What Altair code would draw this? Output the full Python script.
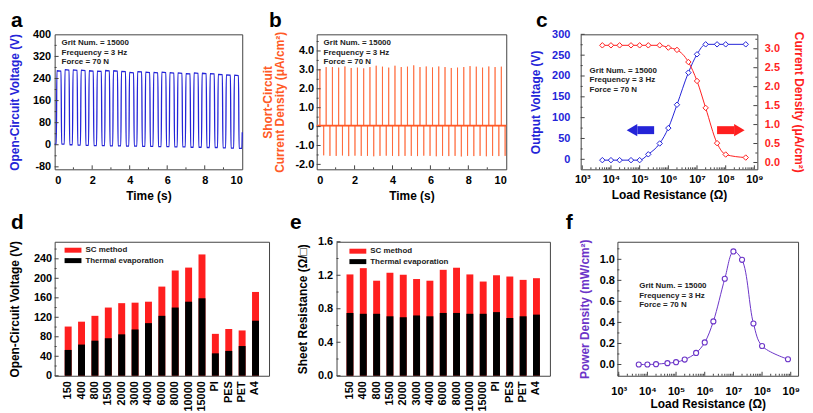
import altair as alt
import pandas as pd

FONT = "Liberation Sans"
FRAME = "#444444"
BLUE = "#2424d8"
RED = "#ff1f1f"
ORANGE = "#ff5a26"
PURPLE = "#6b34c8"

# ---------------- data ----------------
# panel a: open-circuit voltage square wave (pulse edges and levels)
a_rise = [0.10, 0.53, 0.96, 1.39, 1.82, 2.25, 2.68, 3.11, 3.54, 3.97, 4.40, 4.83,
          5.26, 5.69, 6.12, 6.55, 6.98, 7.41, 7.84, 8.27, 8.70, 9.13, 9.56]
a_fall = [0.36, 0.79, 1.22, 1.65, 2.08, 2.51, 2.94, 3.37, 3.80, 4.23, 4.66, 5.09,
          5.52, 5.95, 6.38, 6.81, 7.24, 7.67, 8.10, 8.53, 8.96, 9.39, 9.82]
a_high = [268, 272, 271, 270, 268, 267, 269, 268, 266, 262, 265, 263,
          262, 263, 261, 260, 258, 260, 259, 258, 255, 253, 252]
a_low = [2, 0, -1, -2, -3, -3, -4, -4, -5, -5, -6, -6,
         -7, -7, -8, -8, -9, -9, -10, -10, -11, -12, -13]
a_tail_t = [9.98, 10.0]
a_tail_v = [-13, 45]

# panel b: short-circuit current density spikes
b_pos_t = [0.17, 0.50, 0.83, 1.16, 1.49, 1.82, 2.15, 2.48, 2.81, 3.14, 3.47, 3.80, 4.13, 4.46, 4.79,
           5.12, 5.45, 5.78, 6.11, 6.44, 6.77, 7.10, 7.43, 7.76, 8.09, 8.42, 8.75, 9.08, 9.41, 9.74]
b_pos_v = [3.05, 3.15, 3.15, 3.12, 3.18, 3.10, 3.12, 3.08, 3.15, 3.22, 3.17, 3.12, 3.22, 3.15, 3.17,
           3.24, 3.15, 3.18, 3.13, 3.18, 3.15, 3.10, 3.12, 3.15, 3.20, 3.17, 3.12, 3.18, 3.15, 3.17]
b_neg_t = [0.37, 0.70, 1.03, 1.36, 1.69, 2.02, 2.35, 2.68, 3.01, 3.34, 3.67, 4.00, 4.33, 4.66, 4.99,
           5.32, 5.65, 5.98, 6.31, 6.64, 6.97, 7.30, 7.63, 7.96, 8.29, 8.62, 8.95, 9.28, 9.61, 9.94]
b_neg_v = [-1.52, -1.55, -1.55, -1.53, -1.56, -1.54, -1.55, -1.55, -1.57, -1.55, -1.54, -1.55, -1.56,
           -1.55, -1.55, -1.56, -1.54, -1.55, -1.57, -1.55, -1.56, -1.55, -1.58, -1.55, -1.56, -1.55,
           -1.57, -1.55, -1.56, -1.55]
b_base = 0.05

# panel c: output voltage / current density vs load resistance
c_res = [5e3, 1e4, 2e4, 5e4, 1e5, 2e5, 5e5, 1e6, 2e6, 5e6, 1e7, 2e7, 5e7, 1e8, 5e8]
c_volt = [-2, -2, -2, -2, -2, 12, 38, 75, 131, 208, 252, 276, 276, 276, 276]
c_curr = [3.09, 3.09, 3.09, 3.09, 3.09, 3.09, 3.09, 3.03, 2.97, 2.65, 2.15, 1.44, 0.51, 0.21, 0.13]

# panels d, e: bar categories
cats = ["150", "400", "800", "1500", "2000", "3000", "4000", "6000", "8000",
        "10000", "15000", "PI", "PES", "PET", "A4"]
d_sc = [101, 111, 123, 140, 149, 150, 152, 183, 216, 222, 249, 86, 96, 93, 172]
d_th = [53, 64, 72, 77, 85, 95, 108, 123, 140, 152, 159, 46, 51, 61, 113]
e_sc = [1.21, 1.285, 1.135, 1.23, 1.205, 1.155, 1.135, 1.265, 1.29, 1.21, 1.125, 1.20, 1.185, 1.145, 1.165]
e_th = [0.75, 0.74, 0.74, 0.71, 0.70, 0.72, 0.71, 0.75, 0.75, 0.74, 0.74, 0.76, 0.69, 0.71, 0.73]

# panel f: power density
f_res = [5e3, 1e4, 2e4, 5e4, 1e5, 2e5, 5e5, 1e6, 2e6, 5e6, 1e7, 2e7, 5e7, 1e8, 8e8]
f_pow = [0.0, 0.0, 0.003, 0.013, 0.022, 0.047, 0.11, 0.21, 0.41, 0.815, 1.075, 0.995, 0.39, 0.176, 0.05]

note_lines = ["Grit Num. = 15000", "Frequency = 3 Hz", "Force = 70 N"]
legend_labels = ["SC method", "Thermal evaporation"]

# ---------------- helpers ----------------
def ax(**kw):
    base = dict(domain=False, ticks=False, grid=False,
                labelFont=FONT, labelFontSize=11, labelFontWeight="bold", labelColor="black",
                titleFont=FONT, titleFontSize=12, titleFontWeight="bold", titleColor="black")
    base.update(kw)
    return alt.Axis(**base)


ONE = pd.DataFrame({"k": [0]})


def yticks(vals, enc, size, W=None):
    df = pd.DataFrame({"tv": vals})
    if W is None:
        xx, xx2 = alt.value(0), alt.value(size)
    else:
        xx, xx2 = alt.value(W), alt.value(W - size)
    return alt.Chart(df).mark_rule(color=FRAME, strokeWidth=1).encode(
        y=alt.Y("tv:Q", **enc), x=xx, x2=xx2)


def xticks(vals, enc, size, H):
    df = pd.DataFrame({"tv": vals})
    return alt.Chart(df).mark_rule(color=FRAME, strokeWidth=1).encode(
        x=alt.X("tv:Q", **enc), y=alt.value(H), y2=alt.value(H - size))


def letter(ch, x, y):
    return alt.Chart(ONE).mark_text(text=ch, font=FONT, fontSize=21, fontWeight="bold",
                                    align="left", baseline="alphabetic", color="black").encode(
        x=alt.value(x), y=alt.value(y))


def note(x, y):
    return alt.Chart(ONE).mark_text(text=note_lines, font=FONT, fontSize=8, fontWeight="bold",
                                    align="left", baseline="top", lineHeight=9.5,
                                    color="#222222").encode(x=alt.value(x), y=alt.value(y))


def legend(x0, y0):
    layers = []
    for i, (lab, col) in enumerate(zip(legend_labels, [RED, "black"])):
        yy = y0 + i * 10.5
        layers.append(alt.Chart(ONE).mark_rect(color=col).encode(
            x=alt.value(x0), x2=alt.value(x0 + 17), y=alt.value(yy), y2=alt.value(yy + 5)))
        layers.append(alt.Chart(ONE).mark_text(text=lab, font=FONT, fontSize=8, fontWeight="bold",
                                               align="left", baseline="middle", color="#222222").encode(
            x=alt.value(x0 + 21), y=alt.value(yy + 2.5)))
    return layers


sup = "datum.value < 5e3 ? '10³' : datum.value < 5e4 ? '10⁴' : datum.value < 5e5 ? '10⁵' : " \
      "datum.value < 5e6 ? '10⁶' : datum.value < 5e7 ? '10⁷' : datum.value < 5e8 ? '10⁸' : '10⁹'"
decades = [1e3, 1e4, 1e5, 1e6, 1e7, 1e8, 1e9]
minor_log = [m * d for d in decades[:-1] for m in range(2, 10)]

H1 = 136
H2 = 135

# ---------------- panel a ----------------
a_t, a_v = [0.0], [a_low[0]]
prev = a_low[0]
for r, f, hi, lo in zip(a_rise, a_fall, a_high, a_low):
    a_t += [r - 0.012, r + 0.02, f - 0.02, f + 0.012]
    a_v += [prev, hi, hi * 0.995, lo]
    prev = lo
a_t += a_tail_t
a_v += a_tail_v
df_a = pd.DataFrame({"t": a_t, "v": a_v})

WA = 189
time_x = dict(scale=alt.Scale(domain=[0, 10], nice=False, zero=False),
              axis=ax(values=[0, 2, 4, 6, 8, 10], labelPadding=5, titlePadding=5),
              title="Time (s)")
a_y = dict(scale=alt.Scale(domain=[-89, 400], nice=False, zero=False),
           axis=ax(values=[-80, 0, 80, 160, 240, 320, 400], labelPadding=4, titlePadding=11,
                   titleColor=BLUE, labelExpr="replace(datum.label, '−', '-')"),
           title="Open-Circuit Voltage (V)")
pa = alt.layer(
    alt.Chart(df_a).mark_line(color=BLUE, strokeWidth=1.3, interpolate="monotone").encode(
        x=alt.X("t:Q", **time_x), y=alt.Y("v:Q", **a_y)),
    yticks([-80, 0, 80, 160, 240, 320], a_y, 4),
    yticks([-40, 40, 120, 200, 280, 360], a_y, 2),
    xticks([2, 4, 6, 8], time_x, 4, H1),
    xticks([1, 3, 5, 7, 9], time_x, 2, H1),
    note(7, 5),
    letter("a", -44, -7),
).properties(width=WA, height=H1)

# ---------------- panel b ----------------
ev = [(t, v) for t, v in zip(b_pos_t, b_pos_v)] + [(t, v) for t, v in zip(b_neg_t, b_neg_v)]
ev.sort()
b_t, b_v = [0.0], [b_base]
for t, v in ev:
    b_t += [t - 0.004, t, t + 0.004]
    b_v += [b_base, v, b_base]
b_t.append(10.0)
b_v.append(b_base)
df_b = pd.DataFrame({"t": b_t, "v": b_v})
df_b0 = pd.DataFrame({"t": [0.0], "t2": [10.0], "v": [b_base]})

WB = 191
b_y = dict(scale=alt.Scale(domain=[-2.26, 4.88], nice=False, zero=False),
           axis=ax(values=[-2, -1, 0, 1, 2, 3, 4], labelPadding=3, titlePadding=8,
                   titleColor=ORANGE, titleLineHeight=13,
                   labelExpr="datum.value == 0 ? '0' : replace(format(datum.value, '.1f'), '−', '-')"),
           title=["Short-Circuit", "Current Density (μA/cm²)"])
pb = alt.layer(
    alt.Chart(df_b).mark_line(color=ORANGE, strokeWidth=1, opacity=0.7).encode(
        x=alt.X("t:Q", **time_x), y=alt.Y("v:Q", **b_y)),
    alt.Chart(df_b0).mark_rule(color=ORANGE, strokeWidth=1.6).encode(
        x=alt.X("t:Q", **time_x), x2="t2:Q", y=alt.Y("v:Q", **b_y)),
    yticks([-2, -1, 0, 1, 2, 3, 4], b_y, 4),
    yticks([-1.5, -0.5, 0.5, 1.5, 2.5, 3.5, 4.5], b_y, 2),
    xticks([2, 4, 6, 8], time_x, 4, H1),
    xticks([1, 3, 5, 7, 9], time_x, 2, H1),
    note(7, 5),
    letter("b", -48, -7),
).properties(width=WB, height=H1)

# ---------------- panel c ----------------
WC = 178
df_c = pd.DataFrame({"r": c_res, "v": c_volt, "i": c_curr})
c_x = dict(scale=alt.Scale(type="log", domain=[880, 1.27e9], nice=False),
           axis=ax(values=decades, labelExpr=sup, labelPadding=4, titlePadding=5),
           title="Load Resistance (Ω)")
c_yl = dict(scale=alt.Scale(domain=[-24, 300], nice=False, zero=False),
            axis=ax(values=[0, 50, 100, 150, 200, 250, 300], labelPadding=11, titlePadding=9,
                    titleColor=BLUE, labelColor=BLUE),
            title="Output Voltage (V)")
c_yr = dict(scale=alt.Scale(domain=[-0.18, 3.38], nice=False, zero=False),
            axis=ax(orient="right", values=[0, 0.5, 1, 1.5, 2, 2.5, 3], format=".1f", labelPadding=7,
                    titlePadding=12, titleColor=RED, labelColor=RED),
            title="Current Density (μA/cm²)")

arrow_body = pd.DataFrame({"x1": [8.3e4, 5.0e7], "x2": [3.2e5, 2.0e8], "y": [70, 70], "c": ["b", "r"]})
arrow_head = pd.DataFrame({"x": [5.4e4, 3.0e8], "y": [70, 70], "c": ["b", "r"]})

left = alt.layer(
    alt.Chart(df_c).mark_line(color=BLUE, strokeWidth=1, interpolate="monotone").encode(
        x=alt.X("r:Q", **c_x), y=alt.Y("v:Q", **c_yl)),
    alt.Chart(df_c).mark_point(shape="diamond", size=30, color=BLUE, filled=False,
                               strokeWidth=1, fill="white", opacity=1).encode(
        x=alt.X("r:Q", **c_x), y=alt.Y("v:Q", **c_yl)),
    alt.Chart(arrow_body).mark_rule(strokeWidth=8).encode(
        x=alt.X("x1:Q", **c_x), x2="x2:Q", y=alt.Y("y:Q", **c_yl),
        color=alt.Color("c:N", scale=alt.Scale(domain=["b", "r"], range=[BLUE, RED]), legend=None)),
    alt.Chart(arrow_head[arrow_head.c == "b"]).mark_point(shape="triangle-left", size=150, filled=True,
                                                          color=BLUE, opacity=1).encode(
        x=alt.X("x:Q", **c_x), y=alt.Y("y:Q", **c_yl)),
    alt.Chart(arrow_head[arrow_head.c == "r"]).mark_point(shape="triangle-right", size=150, filled=True,
                                                          color=RED, opacity=1).encode(
        x=alt.X("x:Q", **c_x), y=alt.Y("y:Q", **c_yl)),
    yticks([0, 50, 100, 150, 200, 250, 300], c_yl, 4),
    yticks([25, 75, 125, 175, 225, 275], c_yl, 2),
    xticks(decades, c_x, 4, H1),
    xticks(minor_log, c_x, 2, H1),
    note(9, 33),
    letter("c", -45, -7),
)
right = alt.layer(
    alt.Chart(df_c).mark_line(color=RED, strokeWidth=1, interpolate="monotone").encode(
        x=alt.X("r:Q", **c_x), y=alt.Y("i:Q", **c_yr)),
    alt.Chart(df_c).mark_point(shape="diamond", size=30, color=RED, filled=False,
                               strokeWidth=1, fill="white", opacity=1).encode(
        x=alt.X("r:Q", **c_x), y=alt.Y("i:Q", **c_yr)),
    yticks([0, 0.5, 1, 1.5, 2, 2.5, 3], c_yr, 4, W=WC),
    yticks([0.25, 0.75, 1.25, 1.75, 2.25, 2.75, 3.25], c_yr, 2, W=WC),
)
pc = alt.layer(left, right).resolve_scale(y="independent").properties(width=WC, height=H1)

# ---------------- panel d ----------------
df_bar = pd.DataFrame({"cat": cats, "dsc": d_sc, "dth": d_th, "esc": e_sc, "eth": e_th})
band_x = dict(sort=cats, scale=alt.Scale(paddingInner=0.48, paddingOuter=0.75),
              axis=ax(labelAngle=-90, labelPadding=5), title=None)
WD = 216
d_y = dict(scale=alt.Scale(domain=[0, 275], nice=False),
           axis=ax(values=[0, 40, 80, 120, 160, 200, 240], labelPadding=3, titlePadding=12),
           title="Open-Circuit Voltage (V)")
pd_ = alt.layer(
    alt.Chart(df_bar).mark_bar(color=RED).encode(x=alt.X("cat:N", **band_x), y=alt.Y("dsc:Q", **d_y)),
    alt.Chart(df_bar).mark_bar(color="black").encode(x=alt.X("cat:N", **band_x), y=alt.Y("dth:Q", **d_y)),
    yticks([0, 40, 80, 120, 160, 200, 240], d_y, 4),
    yticks([20, 60, 100, 140, 180, 220, 260], d_y, 2),
    *legend(10, 6),
    letter("d", -44, -13),
).properties(width=WD, height=H2)

# ---------------- panel e ----------------
WE = 215
e_y = dict(scale=alt.Scale(domain=[0, 1.6], nice=False),
           axis=ax(values=[0, 0.4, 0.8, 1.2, 1.6], format=".1f", labelPadding=4, titlePadding=8),
           title="Sheet Resistance (Ω/□)")
pe = alt.layer(
    alt.Chart(df_bar).mark_bar(color=RED).encode(x=alt.X("cat:N", **band_x), y=alt.Y("esc:Q", **e_y)),
    alt.Chart(df_bar).mark_bar(color="black").encode(x=alt.X("cat:N", **band_x), y=alt.Y("eth:Q", **e_y)),
    yticks([0, 0.4, 0.8, 1.2, 1.6], e_y, 4),
    yticks([0.2, 0.6, 1.0, 1.4], e_y, 2),
    *legend(13, 7),
    letter("e", -47, -13),
).properties(width=WE, height=H2)

# ---------------- panel f ----------------
WF = 182
df_f = pd.DataFrame({"r": f_res, "p": f_pow})
f_x = dict(scale=alt.Scale(type="log", domain=[900, 1.8e9], nice=False),
           axis=ax(values=decades, labelExpr=sup, labelPadding=10, titlePadding=2),
           title="Load Resistance (Ω)")
f_y = dict(scale=alt.Scale(domain=[-0.107, 1.167], nice=False, zero=False),
           axis=ax(values=[0, 0.2, 0.4, 0.6, 0.8, 1.0], format=".1f", labelPadding=3, titlePadding=8,
                   titleColor=PURPLE),
           title="Power Density (mW/cm²)")
pf = alt.layer(
    alt.Chart(df_f).mark_line(color=PURPLE, strokeWidth=1, interpolate="catmull-rom").encode(
        x=alt.X("r:Q", **f_x), y=alt.Y("p:Q", **f_y)),
    alt.Chart(df_f).mark_point(shape="circle", size=26, color=PURPLE, filled=False, strokeWidth=1.1,
                               fill="white", opacity=1).encode(
        x=alt.X("r:Q", **f_x), y=alt.Y("p:Q", **f_y)),
    yticks([0, 0.2, 0.4, 0.6, 0.8, 1.0], f_y, 4),
    yticks([-0.1, 0.1, 0.3, 0.5, 0.7, 0.9, 1.1], f_y, 2),
    xticks(decades, f_x, 4, H2),
    xticks(minor_log, f_x, 2, H2),
    note(22, 41),
    letter("f", -52, -13),
).properties(width=WF, height=H2)

row1 = alt.hconcat(pa, pb, pc, spacing=75, bounds="flush")
row2 = alt.hconcat(pd_, pe, pf, spacing=68, bounds="flush")

chart = alt.vconcat(row1, row2, spacing=9).properties(
    padding={"left": 0, "top": 0, "right": 0, "bottom": 0}
).configure(font=FONT, background="white").configure_view(stroke=FRAME, strokeWidth=1)

chart.save("out.html", embed_options={"renderer": "svg", "actions": False})
